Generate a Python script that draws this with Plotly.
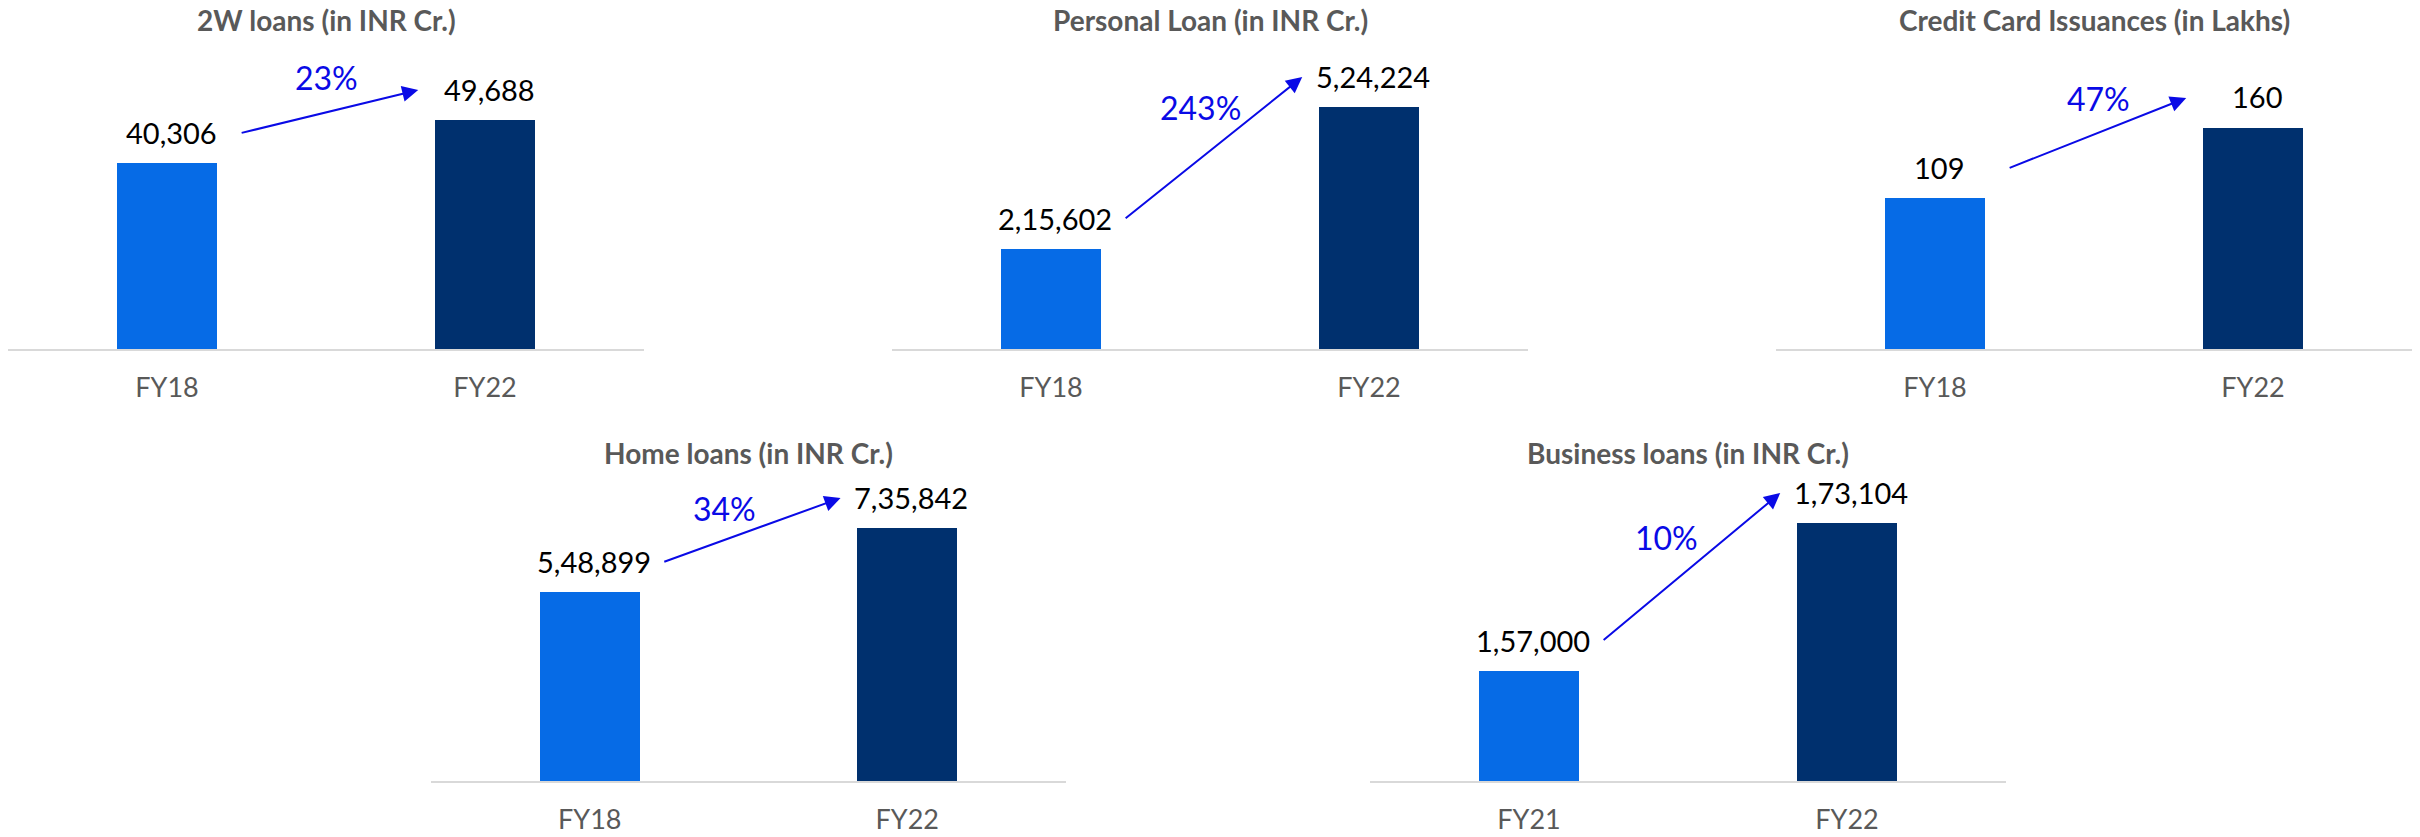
import plotly.graph_objects as go

# ---------------- data ----------------
titles = [
    "2W loans (in INR Cr.)",
    "Personal Loan (in INR Cr.)",
    "Credit Card Issuances (in Lakhs)",
    "Home loans (in INR Cr.)",
    "Business loans (in INR Cr.)",
]
two_w_years = ["FY18", "FY22"]
two_w_values = [40306, 49688]
personal_years = ["FY18", "FY22"]
personal_values = [215602, 524224]
credit_years = ["FY18", "FY22"]
credit_values = [109, 160]
home_years = ["FY18", "FY22"]
home_values = [548899, 735842]
business_years = ["FY21", "FY22"]
business_values = [157000, 173104]
growth_labels = ["23%", "243%", "47%", "34%", "10%"]

panels_years = [two_w_years, personal_years, credit_years, home_years, business_years]
panels_values = [two_w_values, personal_values, credit_values, home_values, business_values]

# ---------------- layout / style ----------------
W, H = 2420, 837
x_px = [(8, 644), (892, 1528), (1776, 2412), (431, 1066), (1370, 2006)]
row_y_px = [(60, 349), (60, 349), (60, 349), (490, 781), (490, 781)]
title_y_px = [20, 20, 20, 453, 453]
y_ranges = [[0, 62706], [0, 626037], [0, 209.2], [0, 846374], [145080, 176690]]
pct_shift = [(0, 64), (-10, 71), (4, 65), (-24, 52), (-22, 60)]

FONT = "Lato, Carlito, Calibri, sans-serif"
C_LIGHT = "#066be6"
C_DARK = "#00306e"
C_PCT = "#0a0ae6"
C_GREY = "#595959"


def inr(n):
    s = str(n)
    if len(s) <= 3:
        return s
    last3, rest = s[-3:], s[:-3]
    groups = []
    while len(rest) > 2:
        groups.insert(0, rest[-2:])
        rest = rest[:-2]
    if rest:
        groups.insert(0, rest)
    return ",".join(groups + [last3])


fig = go.Figure()
annotations = []
layout_axes = {}

for i in range(5):
    n = "" if i == 0 else str(i + 1)
    xa, ya = "x" + n, "y" + n
    yrs, vals = panels_years[i], panels_values[i]
    fig.add_trace(go.Bar(
        x=yrs, y=vals, xaxis=xa, yaxis=ya,
        marker=dict(color=[C_LIGHT, C_DARK], line=dict(width=0)),
        width=0.315, showlegend=False, hoverinfo="skip",
    ))
    x0, x1 = x_px[i]
    yt, yb = row_y_px[i]
    layout_axes["xaxis" + n] = dict(
        domain=[x0 / W, x1 / W], anchor=ya, type="category",
        range=[-0.5, 1.5], showline=True, linecolor="#d9d9d9", linewidth=2,
        showgrid=False, zeroline=False, ticks="", fixedrange=True,
        tickfont=dict(family=FONT, size=27, color=C_GREY),
        ticklabelstandoff=14, automargin=False,
    )
    layout_axes["yaxis" + n] = dict(
        domain=[1 - yb / H, 1 - yt / H], anchor=xa, range=y_ranges[i],
        visible=False, showgrid=False, zeroline=False, fixedrange=True,
    )
    # title
    annotations.append(dict(
        xref="paper", yref="paper", x=(x0 + x1) / 2 / W, y=1 - title_y_px[i] / H,
        text="<b>%s</b>" % titles[i], showarrow=False, xanchor="center", yanchor="middle",
        font=dict(family=FONT, size=28, color=C_GREY),
    ))
    # value labels
    for k in range(2):
        annotations.append(dict(
            xref=xa, yref=ya, x=yrs[k], y=vals[k], text=inr(vals[k]),
            showarrow=False, xanchor="center", yanchor="middle", xshift=4, yshift=31,
            font=dict(family=FONT, size=29, color="black"),
        ))
    # growth arrow
    annotations.append(dict(
        xref=xa, yref=ya, x=0.79, y=vals[1], axref=xa, ayref=ya, ax=0.23, ay=vals[0],
        text="", showarrow=True, arrowhead=2, arrowsize=1.6, arrowwidth=2,
        arrowcolor=C_PCT, yshift=30, standoff=0, startstandoff=0,
    ))
    # growth label
    annotations.append(dict(
        xref=xa, yref=ya, x=0.5, y=(vals[0] + vals[1]) / 2, text=growth_labels[i],
        showarrow=False, xanchor="center", yanchor="middle",
        xshift=pct_shift[i][0], yshift=pct_shift[i][1],
        font=dict(family=FONT, size=32, color=C_PCT),
    ))

fig.update_layout(
    width=W, height=H, margin=dict(l=0, r=0, t=0, b=0),
    paper_bgcolor="white", plot_bgcolor="white",
    annotations=annotations, bargap=0, **layout_axes,
)

fig.write_html(
    "out.html",
    config={"displayModeBar": False},
    post_script="document.body.style.margin='0px';document.body.style.overflow='hidden';",
)
